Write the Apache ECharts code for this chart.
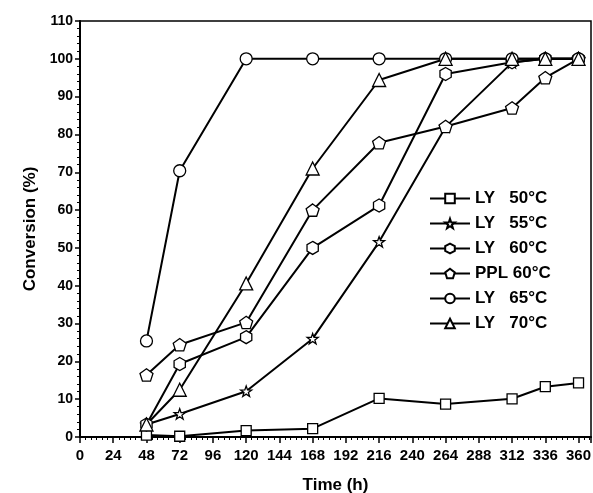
<!DOCTYPE html>
<html>
<head>
<meta charset="utf-8">
<script src="https://cdn.jsdelivr.net/npm/echarts@6/dist/echarts.min.js"></script>
<style>
html,body{margin:0;padding:0;background:#fff;}
#main{width:593px;height:493px;}
</style>
</head>
<body>
<div id="main"></div>
<script>
var times = [48, 72, 120, 168, 216, 264, 312, 336, 360];
var ly50 = [0.5, 0.2, 1.7, 2.2, 10.2, 8.7, 10.1, 13.3, 14.3];
var ly55 = [3.3, 6.1, 12.1, 26, 51.6, 82, 99, 100, 100];
var ly60 = [3.3, 19.3, 26.4, 50, 61.2, 96, 99.1, 100, 100];
var ppl60 = [16.4, 24.4, 30.3, 60, 77.8, 82.1, 87, 95, 100];
var ly65 = [25.4, 70.4, 100, 100, 100, 100, 100, 100, 100];
var ly70 = [3.3, 12.5, 40.6, 71, 94.4, 100, 100, 100, 100];
var names = ['LY   50°C', 'LY   55°C', 'LY   60°C', 'PPL 60°C', 'LY   65°C', 'LY   70°C'];

var starPath = 'path://M0,-10L2.35,-3.24L9.51,-3.09L3.80,1.24L5.88,8.09L0,4L-5.88,8.09L-3.80,1.24L-9.51,-3.09L-2.35,-3.24Z';
var pentPath = 'path://M0,-10L9.51,-3.09L5.88,8.09L-5.88,8.09L-9.51,-3.09Z';
var hexPath = 'path://M0,-10L8.66,-5L8.66,5L0,10L-8.66,5L-8.66,-5Z';

function pairs(vals){
	var out = [];
	for(var i = 0; i < times.length; i++){
		out.push([times[i], vals[i]]);
	}
	return out;
}

function makeSeries(name, vals, symbol, size){
	return {
		name: name,
		type: 'line',
		data: pairs(vals),
		symbol: symbol,
		symbolSize: size,
		symbolKeepAspect: true,
		showAllSymbol: true,
		lineStyle: {color: '#000', width: 2},
		itemStyle: {color: '#fff', borderColor: '#000', borderWidth: 1.3},
		emphasis: {disabled: true}
	};
}

var font = 'Liberation Sans';
var myChart = echarts.init(document.getElementById('main'));
var option = {
	backgroundColor: '#fff',
	animation: false,
	grid: {
		left: 80, right: 2, top: 21, bottom: 56,
		outerBoundsMode: 'none',
		show: true, borderColor: '#000', borderWidth: 1.5
	},
	legend: {
		orient: 'vertical',
		left: 424,
		top: 185,
		itemWidth: 40,
		itemHeight: 12,
		itemGap: 8,
		data: names,
		textStyle: {fontFamily: font, fontWeight: 'bold', fontSize: 17, color: '#000'}
	},
	xAxis: {
		type: 'value',
		min: 0,
		max: 369,
		interval: 24,
		name: 'Time (h)',
		nameLocation: 'middle',
		nameGap: 40,
		nameTextStyle: {fontFamily: font, fontWeight: 'bold', fontSize: 17, color: '#000'},
		axisLine: {onZero: false, lineStyle: {color: '#000', width: 2}},
		axisTick: {length: 6, lineStyle: {color: '#000', width: 1.5}},
		minorTick: {show: true, splitNumber: 6, length: 3, lineStyle: {color: '#000', width: 1}},
		splitLine: {show: false},
		axisLabel: {
			margin: 11,
			fontFamily: font, fontWeight: 'bold', fontSize: 15, color: '#000',
			formatter: function(v){ return v % 24 === 0 ? String(v) : ''; }
		}
	},
	yAxis: {
		type: 'value',
		min: 0,
		max: 110,
		interval: 10,
		name: 'Conversion (%)',
		nameLocation: 'middle',
		nameGap: 40,
		nameTextStyle: {fontFamily: font, fontWeight: 'bold', fontSize: 17, color: '#000'},
		axisLine: {show: true, lineStyle: {color: '#000', width: 2}},
		axisTick: {show: true, length: 5, lineStyle: {color: '#000', width: 1.5}},
		minorTick: {show: true, splitNumber: 5, length: 3, lineStyle: {color: '#000', width: 1}},
		splitLine: {show: false},
		axisLabel: {margin: 7, fontFamily: font, fontWeight: 'bold', fontSize: 14, color: '#000'}
	},
	series: [
		makeSeries(names[0], ly50, 'rect', 10),
		makeSeries(names[1], ly55, starPath, 11),
		makeSeries(names[2], ly60, hexPath, 13),
		makeSeries(names[3], ppl60, pentPath, 13),
		makeSeries(names[4], ly65, 'circle', 12),
		makeSeries(names[5], ly70, 'triangle', 13)
	]
};
myChart.setOption(option);
</script>
</body>
</html>
